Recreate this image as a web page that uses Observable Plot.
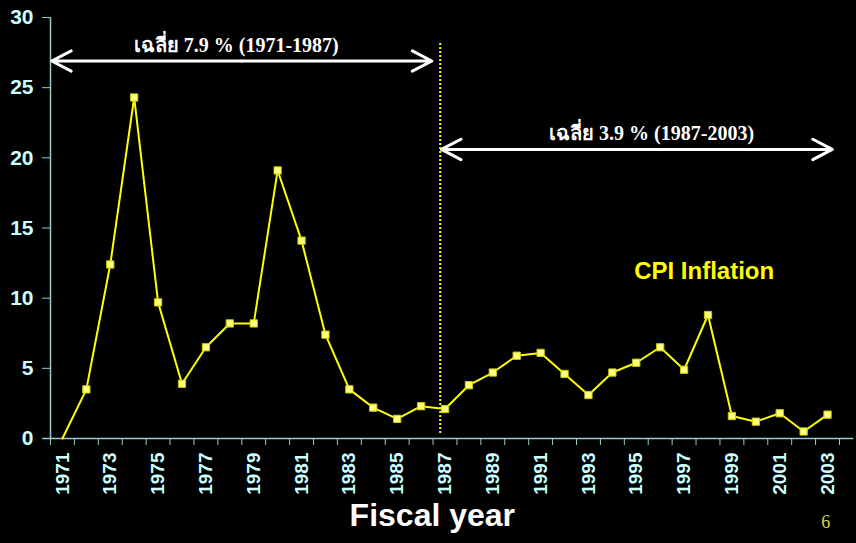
<!DOCTYPE html>
<html>
<head>
<meta charset="utf-8">
<script src="https://cdn.jsdelivr.net/npm/d3@7"></script>
<script src="https://cdn.jsdelivr.net/npm/@observablehq/plot@0.6"></script>
<style>
  html, body { margin: 0; padding: 0; background: #000; }
  #chart svg { display: block; }
</style>
</head>
<body>
<div id="chart"></div>
<script>
const years = d3.range(1971, 2004);
const cpi = [0.0, 3.5, 12.4, 24.3, 9.7, 3.9, 6.5, 8.2, 8.2, 19.1, 14.1, 7.4, 3.5, 2.2, 1.4, 2.3,
             2.1, 3.8, 4.7, 5.9, 6.1, 4.6, 3.1, 4.7, 5.4, 6.5, 4.9, 8.8, 1.6, 1.2, 1.8, 0.5, 1.7];
const yTicks = [0, 5, 10, 15, 20, 25, 30];
const xLabelYears = years.filter(y => y % 2 === 1);
const xTickBounds = d3.range(1970.5, 2004, 1);
const avgLabels = ["เฉลี่ย 7.9 % (1971-1987)", "เฉลี่ย 3.9 % (1987-2003)"];
const seriesLabel = "CPI Inflation";
const xTitle = "Fiscal year";
const pageNo = "6";

const data = years.map((y, i) => ({year: y, value: cpi[i]}));

const labelColor = "#ccffff";
const axisColor = "#99cccc";
const sans = "'Liberation Sans', Arial, sans-serif";
const serif = "'Liberation Serif', 'Times New Roman', serif";

const plot = Plot.plot({
  width: 856,
  height: 543,
  marginLeft: 50,
  marginRight: 17,
  marginTop: 17,
  marginBottom: 105,
  style: {background: "#000", color: labelColor, fontFamily: sans, overflow: "visible"},
  x: {domain: [1970.5, 2003.5]},
  y: {domain: [0, 30]},
  marks: [
    // axis lines
    Plot.ruleX([1970.5], {stroke: axisColor, strokeWidth: 1.5}),
    Plot.ruleY([0], {x1: 1970.2, x2: 2004.1, stroke: axisColor, strokeWidth: 1.5}),
    Plot.axisY({ticks: yTicks, tickSize: 8, tickPadding: 9, stroke: axisColor, strokeOpacity: 1,
      fill: labelColor, fontSize: 21, fontWeight: "bold", label: null}),
    Plot.axisX({ticks: xTickBounds, tickSize: 7, tickFormat: () => "", stroke: axisColor, strokeOpacity: 1, label: null}),
    Plot.axisX({ticks: xLabelYears, tickSize: 0, tickPadding: 14, tickRotate: -90, tickFormat: d => String(d),
      fill: labelColor, fontSize: 19, fontWeight: "bold", label: null}),
    // period divider
    Plot.ruleX([1986.8], {y1: 0.35, y2: 28.2, stroke: "#ffff00", strokeWidth: 2, strokeDasharray: "2,2"}),
    // average arrows (double headed: two arrows from middle outward)
    Plot.arrow([{a: 1978.5, b: 1970.55}, {a: 1978.5, b: 1986.45}], {x1: "a", x2: "b", y1: 26.9, y2: 26.9,
      stroke: "#fff", strokeWidth: 3, headLength: 11, headAngle: 55, bend: 0}),
    Plot.arrow([{a: 1995, b: 1986.85}, {a: 1995, b: 2003.2}], {x1: "a", x2: "b", y1: 20.6, y2: 20.6,
      stroke: "#fff", strokeWidth: 3, headLength: 11, headAngle: 55, bend: 0}),
    Plot.text([avgLabels[0]], {x: 1978.27, y: 28.0, fill: "#fff", fontSize: 20, fontWeight: "bold", fontFamily: serif}),
    Plot.text([avgLabels[1]], {x: 1995.64, y: 21.74, fill: "#fff", fontSize: 20, fontWeight: "bold", fontFamily: serif}),
    // series
    Plot.line(data, {x: "year", y: "value", stroke: "#ffff00", strokeWidth: 2}),
    Plot.dot(data.filter(d => d.value > 0), {x: "year", y: "value", symbol: "square", r: 4.1,
      fill: "#ffff80", stroke: "#cccc00", strokeWidth: 1}),
    Plot.text([seriesLabel], {x: 1997.84, y: 11.9, fill: "#ffff00", fontSize: 24, fontWeight: "bold", fontFamily: sans}),
    // titles
    Plot.text([xTitle], {x: 1986.47, frameAnchor: "bottom", dy: 87, fill: "#fff", fontSize: 32, fontWeight: "bold", fontFamily: sans}),
    Plot.text([pageNo], {x: 2002.93, frameAnchor: "bottom", dy: 89, fill: "#d4d44a", fontSize: 18, fontFamily: serif})
  ]
});
document.getElementById("chart").appendChild(plot);
</script>
</body>
</html>
